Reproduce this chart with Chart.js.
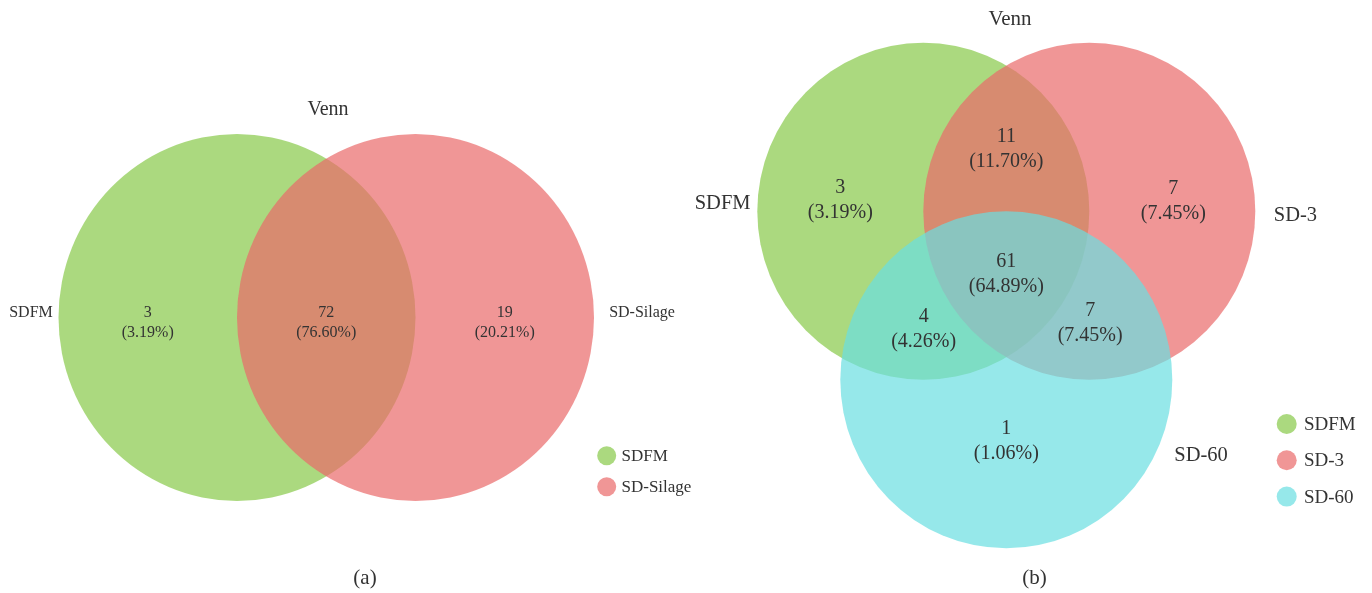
<!DOCTYPE html>
<html>
<head>
<meta charset="utf-8">
<script src="https://cdn.jsdelivr.net/npm/chart.js@4.4.1/dist/chart.umd.min.js"></script>
<style>
  html, body { margin: 0; padding: 0; background: #ffffff; }
  #wrap { position: relative; width: 1372px; height: 593px; overflow: hidden; }
  .panel { position: absolute; top: 0; height: 593px; }
  #pa { left: 0; width: 720px; }
  #pb { left: 686px; width: 686px; }
</style>
</head>
<body>
<div id="wrap">
  <div class="panel" id="pa"><canvas id="ca"></canvas></div>
  <div class="panel" id="pb"><canvas id="cb"></canvas></div>
</div>
<script>
// ---------------- DATA ----------------
const chartTitle = 'Venn';
const panelLabels = ['(a)', '(b)'];

// Panel (a): two sets
const setsA = ['SDFM', 'SD-Silage'];
const regionsA = ['SDFM only', 'SDFM & SD-Silage', 'SD-Silage only'];
const countsA = [3, 72, 19];

// Panel (b): three sets
const setsB = ['SDFM', 'SD-3', 'SD-60'];
const regionsB = ['SDFM only', 'SDFM & SD-3', 'SD-3 only', 'SDFM & SD-3 & SD-60',
                  'SDFM & SD-60', 'SD-3 & SD-60', 'SD-60 only'];
const countsB = [3, 11, 7, 61, 4, 7, 1];

// ---------------- STYLE / LAYOUT ----------------
const FONT = "'Liberation Serif', 'Times New Roman', serif";
const TEXT_COLOR = '#333333';
const setColors = {
  'SDFM': 'rgba(135, 201, 72, 0.7)',
  'SD-Silage': 'rgba(234, 105, 105, 0.7)',
  'SD-3': 'rgba(234, 105, 105, 0.7)',
  'SD-60': 'rgba(105, 222, 225, 0.7)'
};

// layout in "venn units" (circle radius = 1)
const layoutA = {
  W: 720, H: 593,
  ux: 178.5, uy: 183.5, origin: [326.25, 317.5],
  centers: [[-0.5, 0], [0.5, 0]],
  regionAnchors: [[-1, -0.03], [0, -0.03], [1, -0.03]],
  setLabelAnchors: [[-1.654, 0.025], [1.769, 0.025]],
  regionFont: 16, lineGap: 20, setFont: 16,
  title: { x: 328, y: 110, size: 20 },
  panel: { x: 365, y: 578, size: 21 },
  legend: { x: 606.7, y: 455.7, dy: 31, r: 9.5, textX: 621.5, size: 17 }
};
const layoutB = {
  W: 686, H: 593,
  ux: 166, uy: 168.5, origin: [320.3, 295.6],
  centers: [[-0.5, 0.5], [0.5, 0.5], [0, -0.5]],
  regionAnchors: [[-1, 0.563], [0, 0.870], [1.006, 0.558], [0, 0.126],
                  [-0.498, -0.202], [0.505, -0.166], [0, -0.862]],
  setLabelAnchors: [[-1.709, 0.544], [1.742, 0.473], [1.173, -0.947]],
  regionFont: 20, lineGap: 25, setFont: 20.5,
  title: { x: 324, y: 19.5, size: 21 },
  panel: { x: 348.5, y: 578, size: 21 },
  legend: { x: 600.7, y: 424, dy: 36.3, r: 10, textX: 618, size: 19 }
};

function makeVennPlugin(layout, sets, counts, panelLabel) {
  const total = counts.reduce((a, b) => a + b, 0);
  return {
    id: 'venn',
    beforeDatasetDraw(chart, args) {
      const ctx = chart.ctx, xs = chart.scales.x, ys = chart.scales.y;
      const ds = chart.data.datasets[args.index];
      ctx.save();
      ctx.fillStyle = ds.backgroundColor;
      args.meta.data.forEach((el, i) => {
        const p = ds.data[i];
        const rx = Math.abs(xs.getPixelForValue(p.x + 1) - el.x);
        const ry = Math.abs(ys.getPixelForValue(p.y + 1) - el.y);
        ctx.beginPath();
        ctx.ellipse(el.x, el.y, rx, ry, 0, 0, Math.PI * 2);
        ctx.fill();
      });
      ctx.restore();
      return false;
    },
    afterDatasetsDraw(chart) {
      const ctx = chart.ctx, xs = chart.scales.x, ys = chart.scales.y;
      ctx.save();
      ctx.fillStyle = TEXT_COLOR;
      ctx.textAlign = 'center';
      ctx.textBaseline = 'middle';
      // region labels
      ctx.font = layout.regionFont + 'px ' + FONT;
      counts.forEach((c, i) => {
        const a = layout.regionAnchors[i];
        const px = xs.getPixelForValue(a[0]);
        const py = ys.getPixelForValue(a[1]);
        ctx.fillText(String(c), px, py - layout.lineGap / 2);
        ctx.fillText('(' + (c / total * 100).toFixed(2) + '%)', px, py + layout.lineGap / 2);
      });
      // set labels
      ctx.font = layout.setFont + 'px ' + FONT;
      sets.forEach((s, i) => {
        const a = layout.setLabelAnchors[i];
        ctx.fillText(s, xs.getPixelForValue(a[0]), ys.getPixelForValue(a[1]));
      });
      // title
      ctx.font = layout.title.size + 'px ' + FONT;
      ctx.fillText(chartTitle, layout.title.x, layout.title.y);
      // panel label
      ctx.font = layout.panel.size + 'px ' + FONT;
      ctx.fillText(panelLabel, layout.panel.x, layout.panel.y);
      // legend
      const lg = layout.legend;
      ctx.font = lg.size + 'px ' + FONT;
      ctx.textAlign = 'left';
      chart.data.datasets.forEach((ds, i) => {
        const y = lg.y + i * lg.dy;
        ctx.fillStyle = ds.backgroundColor;
        ctx.beginPath();
        ctx.arc(lg.x, y, lg.r, 0, Math.PI * 2);
        ctx.fill();
        ctx.fillStyle = TEXT_COLOR;
        ctx.fillText(ds.label, lg.textX, y + 1);
      });
      ctx.restore();
    }
  };
}

function makeChart(canvasId, sets, counts, layout, panelLabel) {
  const W = layout.W, H = layout.H;
  const datasets = sets.map((s, i) => ({
    label: s,
    data: [{ x: layout.centers[i][0], y: layout.centers[i][1] }],
    backgroundColor: setColors[s],
    pointRadius: 0,
    order: sets.length - i   // first set drawn first (at the bottom)
  }));
  return new Chart(document.getElementById(canvasId), {
    type: 'scatter',
    data: { datasets },
    options: {
      responsive: true,
      maintainAspectRatio: false,
      animation: false,
      events: [],
      devicePixelRatio: 1,
      layout: { padding: 0, autoPadding: false },
      scales: {
        x: { type: 'linear', display: false,
             min: -layout.origin[0] / layout.ux, max: (W - layout.origin[0]) / layout.ux },
        y: { type: 'linear', display: false,
             min: -(H - layout.origin[1]) / layout.uy, max: layout.origin[1] / layout.uy }
      },
      plugins: { legend: { display: false }, tooltip: { enabled: false }, title: { display: false } }
    },
    plugins: [makeVennPlugin(layout, sets, counts, panelLabel)]
  });
}

makeChart('ca', setsA, countsA, layoutA, panelLabels[0]);
makeChart('cb', setsB, countsB, layoutB, panelLabels[1]);
</script>
</body>
</html>
